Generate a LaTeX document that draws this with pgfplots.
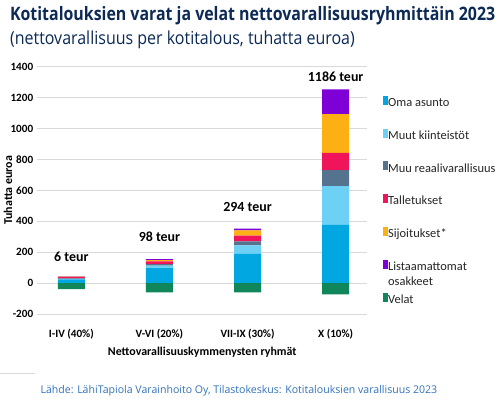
\documentclass[border=0pt]{standalone}
\usepackage{fontspec}
\setmainfont{Carlito}
\newfontfamily\osans{Open Sans}
\usepackage{graphicx}
\usepackage{pgfplots}
\pgfplotsset{compat=1.18}
\definecolor{cOma}{HTML}{00A7E1}
\definecolor{cMuut}{HTML}{6DD0F5}
\definecolor{cReaali}{HTML}{55738E}
\definecolor{cTall}{HTML}{F0145A}
\definecolor{cSij}{HTML}{FDB013}
\definecolor{cList}{HTML}{7F00D6}
\definecolor{cVel}{HTML}{10875A}
\definecolor{titleblue}{HTML}{0C2A55}
\definecolor{srcblue}{HTML}{3373BA}
\definecolor{gridgray}{HTML}{D9D9D9}
\begin{document}
\begin{tikzpicture}[x=1bp,y=1bp]
\path[fill=white] (0,0) rectangle (500,399);
\node[anchor=base west, inner sep=0, text=titleblue] at (9.5,378.3)
  {\resizebox{485.5bp}{\height}{\osans\bfseries\fontsize{18.6}{22}\selectfont Kotitalouksien varat ja velat nettovarallisuusryhmittäin 2023}};
\node[anchor=base west, inner sep=0, text=titleblue] at (9.5,354.5)
  {\resizebox{345bp}{\height}{\osans\fontsize{18}{22}\selectfont (nettovarallisuus per kotitalous, tuhatta euroa)}};
\node[anchor=base west, inner sep=0, text=srcblue] at (40,5.5)
  {\resizebox{397bp}{\height}{\osans\fontsize{10.7}{13}\selectfont Lähde: LähiTapiola Varainhoito Oy, Tilastokeskus: Kotitalouksien varallisuus 2023}};
\draw[gridgray, line width=0.8bp] (0,25) -- (35,25);

\begin{axis}[
  at={(37bp,84.67bp)}, anchor=south west, scale only axis,
  width=330bp, height=247.67bp,
  ybar stacked, bar width=27bp,
  xmin=-0.386, xmax=3.357, ymin=-200, ymax=1400,
  ytick={-200,0,200,400,600,800,1000,1200,1400},
  xtick={0,1,2,3},
  xticklabels={I-IV (40\%),V-VI (20\%),VII-IX (30\%),X (10\%)},
  axis line style={draw=none}, major tick length=0pt,
  ymajorgrids, grid style={gridgray, line width=0.9bp},
  /pgf/number format/assume math mode=true,
  /pgf/number format/1000 sep={},
  ticklabel style={font=\fontsize{11.2}{13}\selectfont\bfseries, text=black},
  yticklabel style={inner sep=0pt, xshift=-4bp},
  xticklabel style={inner sep=0pt, yshift=-15bp},
  xlabel={Nettovarallisuuskymmenysten ryhmät},
  ylabel={Tuhatta euroa},
  x label style={at={(axis description cs:0.5,-0.1684)}, anchor=base, inner sep=0pt, font=\fontsize{12}{14}\selectfont\bfseries},
  y label style={at={(axis description cs:-0.0767,0.5)}, anchor=base, inner sep=0pt, font=\fontsize{12}{14}\selectfont\bfseries},
  legend image code/.code={\fill[#1] (0bp,-1bp) rectangle (5bp,8bp);},
  legend style={draw=none, fill=none, at={(1.048,0.883)}, anchor=north west,
    inner sep=0pt, row sep=19.6bp, font=\fontsize{12.5}{14}\selectfont, text=black!85,
    nodes={inner sep=0pt, text height=8bp, text depth=2.5bp},
    /tikz/every even column/.append style={column sep=3.5bp}},
  legend cell align=left,
  clip=false,
]
\addplot[fill=cOma, draw=none] coordinates {(0,24) (1,97) (2,190) (3,376)};
\addplot[fill=cMuut, draw=none] coordinates {(0,3) (1,17) (2,54) (3,252)};
\addplot[fill=cReaali, draw=none] coordinates {(0,4) (1,9) (2,26) (3,102)};
\addplot[fill=cTall, draw=none] coordinates {(0,9) (1,17) (2,37) (3,112)};
\addplot[fill=cSij, draw=none] coordinates {(0,2) (1,9) (2,34) (3,251)};
\addplot[fill=cList, draw=none] coordinates {(0,2) (1,7) (2,11) (3,160)};
\addlegendimage{fill=cVel, draw=none}
\legend{Oma asunto, Muut kiinteistöt, Muu reaalivarallisuus, Talletukset, Sijoitukset*, {\rlap{\raisebox{-15bp}[0pt][0pt]{osakkeet}}Listaamattomat}, Velat}
\node[font=\fontsize{14}{16}\selectfont\bfseries] at (axis cs:0,170) {6 teur};
\node[font=\fontsize{14}{16}\selectfont\bfseries] at (axis cs:1,300) {98 teur};
\node[font=\fontsize{14}{16}\selectfont\bfseries] at (axis cs:2,493) {294 teur};
\node[font=\fontsize{14}{16}\selectfont\bfseries] at (axis cs:3,1333) {1186 teur};
\end{axis}

\begin{axis}[
  at={(37bp,84.67bp)}, anchor=south west, scale only axis,
  width=330bp, height=247.67bp,
  ybar, bar width=27bp,
  xmin=-0.386, xmax=3.357, ymin=-200, ymax=1400,
  hide axis,
]
\addplot[fill=cVel, draw=none, bar shift=0pt] coordinates {(0,-38) (1,-60) (2,-60) (3,-72)};
\end{axis}
\end{tikzpicture}
\end{document}
